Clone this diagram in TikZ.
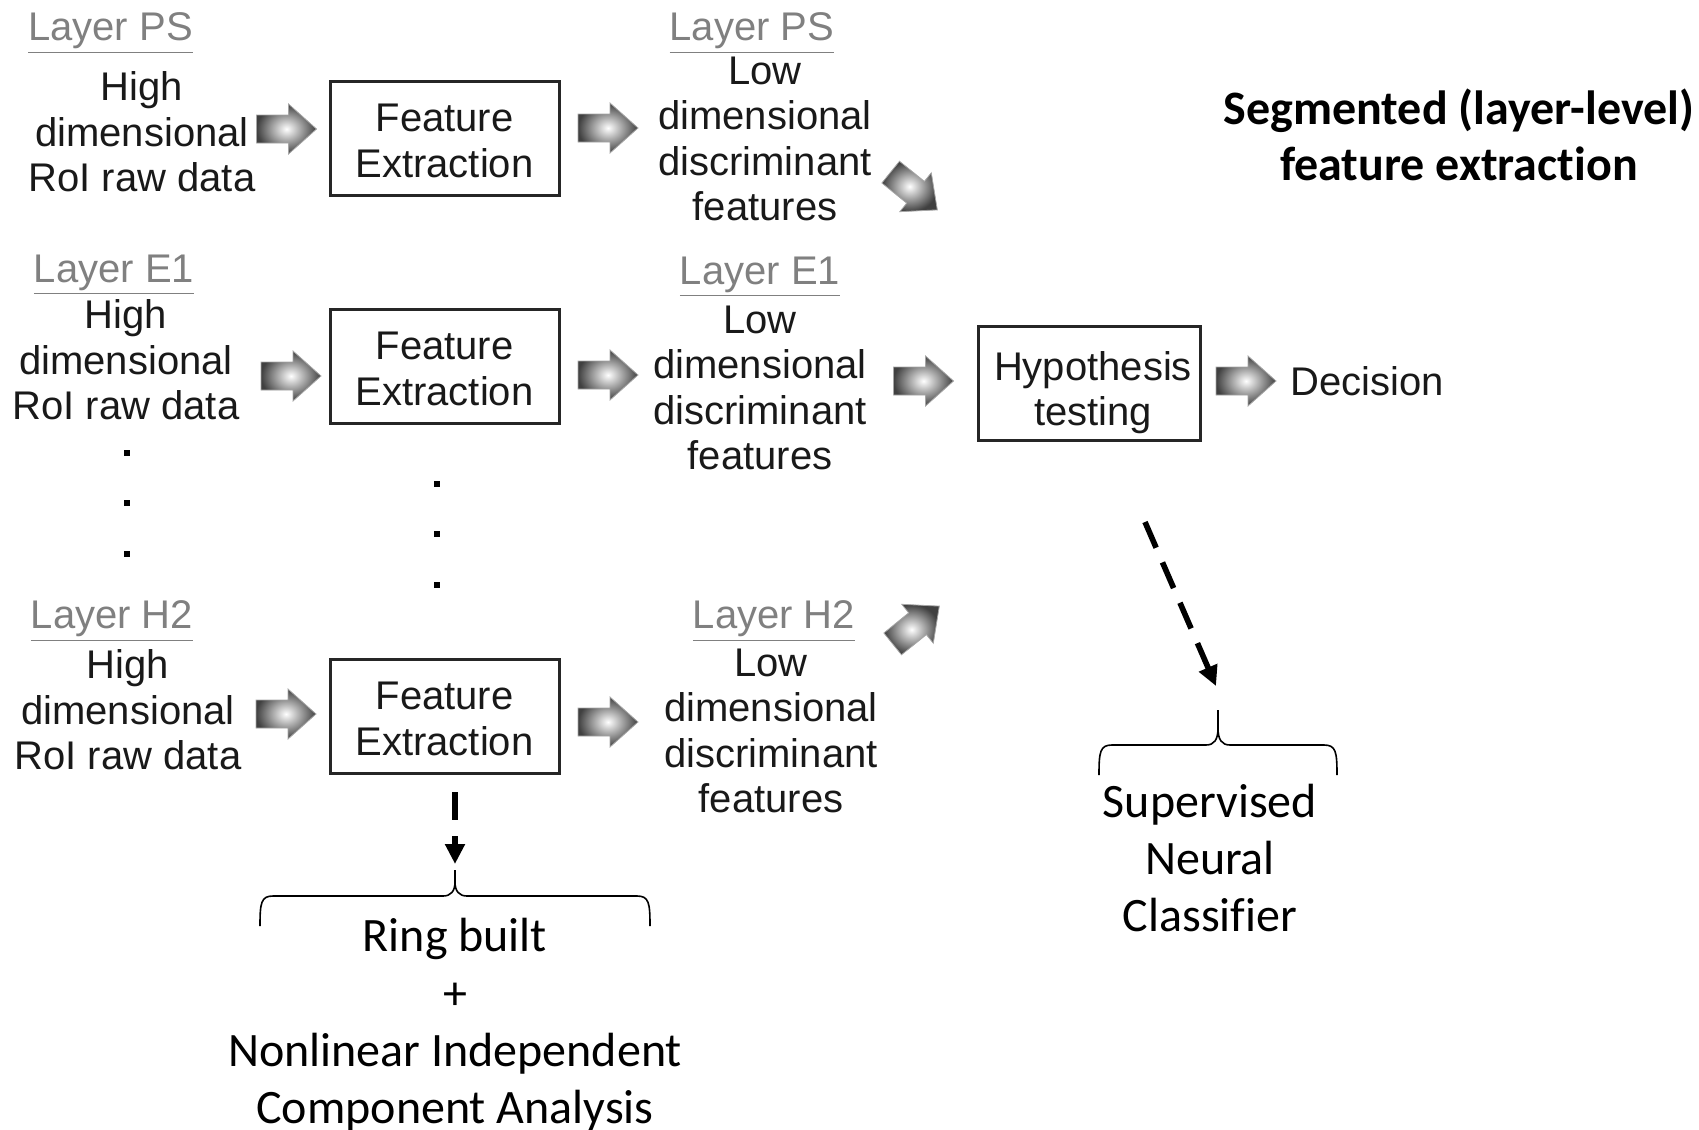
\documentclass[tikz,border=0pt]{standalone}
\usepackage{fontspec}
\setmainfont{Liberation Sans}
\newfontfamily\calib[Ligatures=NoCommon]{Carlito}
\usetikzlibrary{arrows.meta}
\definecolor{lgray}{RGB}{128,128,128}
\tikzset{
 txt/.style={align=center, font=\fontsize{20}{22.75}\selectfont, text=black!90, inner sep=0pt},
 lay/.style={font=\fontsize{20}{24}\selectfont, text=lgray, inner sep=0pt},
 fbox/.style={draw=black!85, line width=1.5pt, minimum width=114.5pt, minimum height=57pt, inner sep=0pt},
 cal/.style={align=center, font=\calib\fontsize{24}{28.7}\selectfont, inner sep=0pt},
 blk/.style={draw=gray!70, line width=0.4pt, inner color=white, outer color=black!75},
 dsh/.style={line width=2.8pt, dash pattern=on 14pt off 8pt, -{Triangle[length=10pt,width=9.5pt]}},
 bracestyle/.style={line width=0.8pt},
 dotnode/.style={fill=black, minimum size=2.6pt, inner sep=0pt}
}
\newcommand\barrow[3]{\shadedraw[blk, shift={(#1,#2)}, rotate=#3] (-30,-14) -- (2,-14) -- (2,-25) -- (30,0) -- (2,25) -- (2,14) -- (-30,14) -- cycle;}
\begin{document}
\begin{tikzpicture}[x=0.5pt,y=-0.5pt]
\useasboundingbox (0,0) rectangle (1699,1130);
% Layer PS
\node[lay] (lps1) at (110.5,33) {\underline{Layer PS}};
\node[txt] (hps) at (142,132) {High\\dimensional\\RoI raw data};
\node[fbox] (fe1) at (444.5,138) {};
\node[txt] (fe1t) at ([yshift=-1.4pt]fe1.center) {Feature\\Extraction};
\node[lay] (lps2) at (752,33) {\underline{Layer PS}};
\node[txt] (lps) at (765,139) {Low\\dimensional\\discriminant\\features};
% Layer E1
\node[lay] (le1a) at (114,275) {\underline{Layer E1}};
\node[txt] (he1) at (126,360) {High\\dimensional\\RoI raw data};
\node[fbox] (fe2) at (444.5,366) {};
\node[txt] (fe2t) at ([yshift=-1.4pt]fe2.center) {Feature\\Extraction};
\node[lay] (le1b) at (760,277) {\underline{Layer E1}};
\node[txt] (le1) at (760,388) {Low\\dimensional\\discriminant\\features};
% dots
\node[dotnode] (d1) at (127,453) {};
\node[dotnode] (d2) at (127,503) {};
\node[dotnode] (d3) at (127,554) {};
\node[dotnode] (d4) at (437,484) {};
\node[dotnode] (d5) at (437,534) {};
\node[dotnode] (d6) at (437,585) {};
% Layer H2
\node[lay] (lh2a) at (112,621) {\underline{Layer H2}};
\node[txt] (hh2) at (128,710) {High\\dimensional\\RoI raw data};
\node[fbox] (fe3) at (444.5,716) {};
\node[txt] (fe3t) at ([yshift=-1.4pt]fe3.center) {Feature\\Extraction};
\node[lay] (lh2b) at (774,621) {\underline{Layer H2}};
\node[txt] (lh2) at (771,731) {Low\\dimensional\\discriminant\\features};
% hypothesis
\node[fbox, minimum width=111pt] (hyp) at (1089,383) {};
\node[txt] (hypt) at ([yshift=-4.9pt,xshift=2pt]hyp.center) {Hypothesis\\testing};
\node[txt, anchor=west] (dec) at (1290,381) {Decision};
\node[align=center, inner sep=0pt, font=\calib\bfseries\fontsize{24}{28}\selectfont] (title) at (1459,135) {Segmented (layer-level)\\feature extraction};
% block arrows
\barrow{286.5}{129}{0}
\barrow{608}{128}{0}
\barrow{291}{376}{0}
\barrow{608}{375}{0}
\barrow{286}{714}{0}
\barrow{608}{722}{0}
\barrow{923.5}{381}{0}
\barrow{1246}{381}{0}
\barrow{914}{191}{-39}
\barrow{916}{625}{39}
% braces
\coordinate (sTip) at (1218,710);
\draw[bracestyle] (1099,775) .. controls (1099,752) and (1100,745) .. (1112,745) -- (1206,745) .. controls (1214,745) and (1218,740) .. (1218,728) -- (sTip) -- (1218,728) .. controls (1218,740) and (1222,745) .. (1230,745) -- (1324,745) .. controls (1336,745) and (1337,752) .. (1337,775);
\coordinate (rTip) at (455,870);
\draw[bracestyle] (260,926) .. controls (260,903) and (261,896) .. (273,896) -- (443,896) .. controls (451,896) and (455,891) .. (455,882) -- (rTip) -- (455,882) .. controls (455,891) and (459,896) .. (467,896) -- (637,896) .. controls (649,896) and (650,903) .. (650,926);
\node[cal] (sup) at (1210,858) {Supervised\\Neural\\Classifier};
\node[cal] (ring) at (455,1025) {Ring built\\+\\Nonlinear Independent\\Component Analysis};
% dashed connectors
\coordinate (dA) at (1145,522);
\coordinate (dB) at (1216,686);
\draw[dsh] (dA) -- (dB);
\coordinate (fA) at (455,792);
\coordinate (fB) at (455,864);
\draw[dsh] (fA) -- (fB);
\end{tikzpicture}
\end{document}
